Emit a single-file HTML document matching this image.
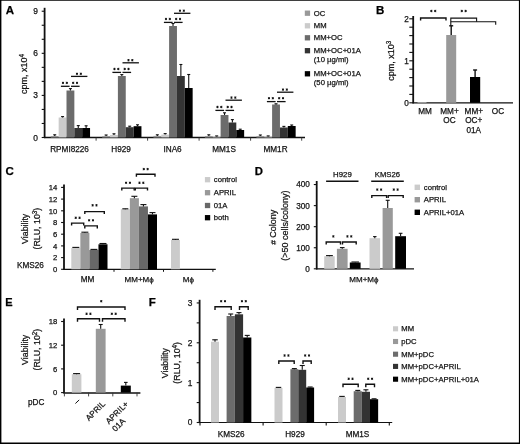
<!DOCTYPE html>
<html><head><meta charset="utf-8"><title>Figure</title>
<style>
html,body{margin:0;padding:0;background:#fff;}
body{width:520px;height:444px;overflow:hidden;font-family:"Liberation Sans",sans-serif;}
svg{display:block;font-family:"Liberation Sans",sans-serif;}
</style></head><body>
<svg width="520" height="444" viewBox="0 0 520 444">
<rect x="0" y="0" width="520" height="444" fill="#fff"/>
<g id="fig" style="will-change:transform">
<text x="5.8" y="13.8" font-size="11.5" text-anchor="start" font-weight="bold" fill="#000" stroke="#000" stroke-width="0.25">A</text>
<line x1="44.6" y1="7.8" x2="44.6" y2="138.1" stroke="#111" stroke-width="1.8"/>
<line x1="41.7" y1="137.5" x2="44.6" y2="137.5" stroke="#111" stroke-width="1.1"/>
<line x1="41.7" y1="123.47" x2="44.6" y2="123.47" stroke="#111" stroke-width="1.1"/>
<line x1="41.7" y1="109.44" x2="44.6" y2="109.44" stroke="#111" stroke-width="1.1"/>
<line x1="41.7" y1="95.41" x2="44.6" y2="95.41" stroke="#111" stroke-width="1.1"/>
<line x1="41.7" y1="81.38" x2="44.6" y2="81.38" stroke="#111" stroke-width="1.1"/>
<line x1="41.7" y1="67.35000000000001" x2="44.6" y2="67.35000000000001" stroke="#111" stroke-width="1.1"/>
<line x1="41.7" y1="53.32000000000001" x2="44.6" y2="53.32000000000001" stroke="#111" stroke-width="1.1"/>
<line x1="41.7" y1="39.290000000000006" x2="44.6" y2="39.290000000000006" stroke="#111" stroke-width="1.1"/>
<line x1="41.7" y1="25.260000000000005" x2="44.6" y2="25.260000000000005" stroke="#111" stroke-width="1.1"/>
<line x1="41.7" y1="11.230000000000004" x2="44.6" y2="11.230000000000004" stroke="#111" stroke-width="1.1"/>
<text x="38" y="140.5" font-size="8.4" text-anchor="end" font-weight="normal" fill="#141414" stroke="#141414" stroke-width="0.25">0</text>
<text x="38" y="98.41" font-size="8.4" text-anchor="end" font-weight="normal" fill="#141414" stroke="#141414" stroke-width="0.25">3</text>
<text x="38" y="56.32000000000001" font-size="8.4" text-anchor="end" font-weight="normal" fill="#141414" stroke="#141414" stroke-width="0.25">6</text>
<text x="38" y="14.230000000000004" font-size="8.4" text-anchor="end" font-weight="normal" fill="#141414" stroke="#141414" stroke-width="0.25">9</text>
<text x="26.9" y="74" font-size="9" text-anchor="middle" font-weight="normal" fill="#141414" stroke="#141414" stroke-width="0.25" transform="rotate(-90 26.9 74)">cpm, x10<tspan font-size="6.3" dy="-3">4</tspan></text>
<line x1="44.0" y1="137.5" x2="305" y2="137.5" stroke="#111" stroke-width="1.4"/>
<line x1="96.1" y1="137.5" x2="96.1" y2="140.7" stroke="#333" stroke-width="0.9"/>
<line x1="147.6" y1="137.5" x2="147.6" y2="140.7" stroke="#333" stroke-width="0.9"/>
<line x1="199.1" y1="137.5" x2="199.1" y2="140.7" stroke="#333" stroke-width="0.9"/>
<line x1="250.6" y1="137.5" x2="250.6" y2="140.7" stroke="#333" stroke-width="0.9"/>
<line x1="301.70000000000005" y1="137.5" x2="301.70000000000005" y2="140.7" stroke="#333" stroke-width="0.9"/>
<rect x="50.800000000000004" y="136.0" width="7.85" height="1.5" fill="#999999"/>
<line x1="54.725" y1="136.0" x2="54.725" y2="134.8" stroke="#111" stroke-width="1.1"/>
<line x1="53.225" y1="134.8" x2="56.225" y2="134.8" stroke="#111" stroke-width="1.1"/>
<rect x="58.650000000000006" y="117.5" width="7.85" height="20.0" fill="#cbcbcb"/>
<line x1="62.575" y1="117.5" x2="62.575" y2="116.6" stroke="#111" stroke-width="1.1"/>
<line x1="61.075" y1="116.6" x2="64.075" y2="116.6" stroke="#111" stroke-width="1.1"/>
<rect x="66.5" y="90.5" width="7.85" height="47.0" fill="#6c6c6c"/>
<line x1="70.425" y1="90.5" x2="70.425" y2="88.6" stroke="#111" stroke-width="1.1"/>
<line x1="68.925" y1="88.6" x2="71.925" y2="88.6" stroke="#111" stroke-width="1.1"/>
<rect x="74.35" y="128" width="7.85" height="9.5" fill="#333333"/>
<line x1="78.27499999999999" y1="128" x2="78.27499999999999" y2="125.6" stroke="#111" stroke-width="1.1"/>
<line x1="76.77499999999999" y1="125.6" x2="79.77499999999999" y2="125.6" stroke="#111" stroke-width="1.1"/>
<rect x="82.2" y="128" width="7.85" height="9.5" fill="#000000"/>
<line x1="86.125" y1="128" x2="86.125" y2="125.8" stroke="#111" stroke-width="1.1"/>
<line x1="84.625" y1="125.8" x2="87.625" y2="125.8" stroke="#111" stroke-width="1.1"/>
<text x="69.55" y="151.6" font-size="8.2" text-anchor="middle" font-weight="normal" fill="#141414" stroke="#141414" stroke-width="0.25">RPMI8226</text>
<rect x="102.19999999999999" y="136.1" width="7.85" height="1.4000000000000057" fill="#999999"/>
<line x1="106.12499999999999" y1="136.1" x2="106.12499999999999" y2="135.0" stroke="#111" stroke-width="1.1"/>
<line x1="104.62499999999999" y1="135.0" x2="107.62499999999999" y2="135.0" stroke="#111" stroke-width="1.1"/>
<rect x="110.04999999999998" y="135.0" width="7.85" height="2.5" fill="#cbcbcb"/>
<line x1="113.97499999999998" y1="135.0" x2="113.97499999999998" y2="133.8" stroke="#111" stroke-width="1.1"/>
<line x1="112.47499999999998" y1="133.8" x2="115.47499999999998" y2="133.8" stroke="#111" stroke-width="1.1"/>
<rect x="117.89999999999999" y="76" width="7.85" height="61.5" fill="#6c6c6c"/>
<line x1="121.82499999999999" y1="76" x2="121.82499999999999" y2="74.6" stroke="#111" stroke-width="1.1"/>
<line x1="120.32499999999999" y1="74.6" x2="123.32499999999999" y2="74.6" stroke="#111" stroke-width="1.1"/>
<rect x="125.74999999999999" y="127.2" width="7.85" height="10.299999999999997" fill="#333333"/>
<line x1="129.67499999999998" y1="127.2" x2="129.67499999999998" y2="126.2" stroke="#111" stroke-width="1.1"/>
<line x1="128.17499999999998" y1="126.2" x2="131.17499999999998" y2="126.2" stroke="#111" stroke-width="1.1"/>
<rect x="133.6" y="126.2" width="7.85" height="11.299999999999997" fill="#000000"/>
<line x1="137.525" y1="126.2" x2="137.525" y2="124.8" stroke="#111" stroke-width="1.1"/>
<line x1="136.025" y1="124.8" x2="139.025" y2="124.8" stroke="#111" stroke-width="1.1"/>
<text x="121.05" y="151.6" font-size="8.2" text-anchor="middle" font-weight="normal" fill="#141414" stroke="#141414" stroke-width="0.25">H929</text>
<rect x="153.39999999999998" y="135.9" width="7.85" height="1.5999999999999943" fill="#999999"/>
<line x1="157.325" y1="135.9" x2="157.325" y2="134.8" stroke="#111" stroke-width="1.1"/>
<line x1="155.825" y1="134.8" x2="158.825" y2="134.8" stroke="#111" stroke-width="1.1"/>
<rect x="161.24999999999997" y="134.6" width="7.85" height="2.9000000000000057" fill="#cbcbcb"/>
<line x1="165.17499999999998" y1="134.6" x2="165.17499999999998" y2="133.6" stroke="#111" stroke-width="1.1"/>
<line x1="163.67499999999998" y1="133.6" x2="166.67499999999998" y2="133.6" stroke="#111" stroke-width="1.1"/>
<rect x="169.09999999999997" y="26" width="7.85" height="111.5" fill="#6c6c6c"/>
<line x1="173.02499999999998" y1="26" x2="173.02499999999998" y2="23.5" stroke="#111" stroke-width="1.1"/>
<line x1="171.52499999999998" y1="23.5" x2="174.52499999999998" y2="23.5" stroke="#111" stroke-width="1.1"/>
<rect x="176.95" y="76" width="7.85" height="61.5" fill="#333333"/>
<line x1="180.875" y1="76" x2="180.875" y2="64.5" stroke="#111" stroke-width="1.1"/>
<line x1="179.375" y1="64.5" x2="182.375" y2="64.5" stroke="#111" stroke-width="1.1"/>
<rect x="184.79999999999998" y="88" width="7.85" height="49.5" fill="#000000"/>
<line x1="188.725" y1="88" x2="188.725" y2="74.5" stroke="#111" stroke-width="1.1"/>
<line x1="187.225" y1="74.5" x2="190.225" y2="74.5" stroke="#111" stroke-width="1.1"/>
<text x="172.54999999999998" y="151.6" font-size="8.2" text-anchor="middle" font-weight="normal" fill="#141414" stroke="#141414" stroke-width="0.25">INA6</text>
<rect x="204.89999999999998" y="136.0" width="7.85" height="1.5" fill="#999999"/>
<line x1="208.825" y1="136.0" x2="208.825" y2="134.8" stroke="#111" stroke-width="1.1"/>
<line x1="207.325" y1="134.8" x2="210.325" y2="134.8" stroke="#111" stroke-width="1.1"/>
<rect x="212.74999999999997" y="136.5" width="7.85" height="1.0" fill="#cbcbcb"/>
<line x1="216.67499999999998" y1="136.5" x2="216.67499999999998" y2="135.9" stroke="#111" stroke-width="1.1"/>
<line x1="215.17499999999998" y1="135.9" x2="218.17499999999998" y2="135.9" stroke="#111" stroke-width="1.1"/>
<rect x="220.59999999999997" y="115" width="7.85" height="22.5" fill="#6c6c6c"/>
<line x1="224.52499999999998" y1="115" x2="224.52499999999998" y2="112.8" stroke="#111" stroke-width="1.1"/>
<line x1="223.02499999999998" y1="112.8" x2="226.02499999999998" y2="112.8" stroke="#111" stroke-width="1.1"/>
<rect x="228.45" y="122.5" width="7.85" height="15.0" fill="#333333"/>
<line x1="232.375" y1="122.5" x2="232.375" y2="119.6" stroke="#111" stroke-width="1.1"/>
<line x1="230.875" y1="119.6" x2="233.875" y2="119.6" stroke="#111" stroke-width="1.1"/>
<rect x="236.29999999999998" y="130" width="7.85" height="7.5" fill="#000000"/>
<line x1="240.225" y1="130" x2="240.225" y2="129.2" stroke="#111" stroke-width="1.1"/>
<line x1="238.725" y1="129.2" x2="241.725" y2="129.2" stroke="#111" stroke-width="1.1"/>
<text x="224.04999999999998" y="151.6" font-size="8.2" text-anchor="middle" font-weight="normal" fill="#141414" stroke="#141414" stroke-width="0.25">MM1S</text>
<rect x="256.4" y="136.0" width="7.85" height="1.5" fill="#999999"/>
<line x1="260.325" y1="136.0" x2="260.325" y2="135.0" stroke="#111" stroke-width="1.1"/>
<line x1="258.825" y1="135.0" x2="261.825" y2="135.0" stroke="#111" stroke-width="1.1"/>
<rect x="264.25" y="136.5" width="7.85" height="1.0" fill="#cbcbcb"/>
<line x1="268.175" y1="136.5" x2="268.175" y2="135.9" stroke="#111" stroke-width="1.1"/>
<line x1="266.675" y1="135.9" x2="269.675" y2="135.9" stroke="#111" stroke-width="1.1"/>
<rect x="272.09999999999997" y="104.5" width="7.85" height="33.0" fill="#6c6c6c"/>
<line x1="276.025" y1="104.5" x2="276.025" y2="103.8" stroke="#111" stroke-width="1.1"/>
<line x1="274.525" y1="103.8" x2="277.525" y2="103.8" stroke="#111" stroke-width="1.1"/>
<rect x="279.95" y="127.5" width="7.85" height="10.0" fill="#333333"/>
<line x1="283.875" y1="127.5" x2="283.875" y2="126.4" stroke="#111" stroke-width="1.1"/>
<line x1="282.375" y1="126.4" x2="285.375" y2="126.4" stroke="#111" stroke-width="1.1"/>
<rect x="287.79999999999995" y="126" width="7.85" height="11.5" fill="#000000"/>
<line x1="291.72499999999997" y1="126" x2="291.72499999999997" y2="125" stroke="#111" stroke-width="1.1"/>
<line x1="290.22499999999997" y1="125" x2="293.22499999999997" y2="125" stroke="#111" stroke-width="1.1"/>
<text x="275.55" y="151.6" font-size="8.2" text-anchor="middle" font-weight="normal" fill="#141414" stroke="#141414" stroke-width="0.25">MM1R</text>
<line x1="60.90000000000001" y1="86.3" x2="69.60000000000001" y2="86.3" stroke="#111" stroke-width="1.3"/>
<line x1="71.00000000000001" y1="86.3" x2="79.60000000000001" y2="86.3" stroke="#111" stroke-width="1.3"/>
<path d="M62.98 82.12L62.98 83.68M62.30 82.51L63.65 83.29M63.65 82.51L62.30 83.29" stroke="#111" stroke-width="0.95" stroke-linecap="round" fill="none"/>
<path d="M66.83 82.12L66.83 83.68M66.15 82.51L67.50 83.29M67.50 82.51L66.15 83.29" stroke="#111" stroke-width="0.95" stroke-linecap="round" fill="none"/>
<path d="M73.18 82.12L73.18 83.68M72.50 82.51L73.85 83.29M73.85 82.51L72.50 83.29" stroke="#111" stroke-width="0.95" stroke-linecap="round" fill="none"/>
<path d="M77.03 82.12L77.03 83.68M76.35 82.51L77.70 83.29M77.70 82.51L76.35 83.29" stroke="#111" stroke-width="0.95" stroke-linecap="round" fill="none"/>
<line x1="71.00000000000001" y1="76.4" x2="87.4" y2="76.4" stroke="#111" stroke-width="1.3"/>
<path d="M76.98 73.02L76.98 74.58M76.30 73.41L77.65 74.19M77.65 73.41L76.30 74.19" stroke="#111" stroke-width="0.95" stroke-linecap="round" fill="none"/>
<path d="M80.83 73.02L80.83 74.58M80.15 73.41L81.50 74.19M81.50 73.41L80.15 74.19" stroke="#111" stroke-width="0.95" stroke-linecap="round" fill="none"/>
<line x1="112.39999999999999" y1="72.4" x2="121.1" y2="72.4" stroke="#111" stroke-width="1.3"/>
<line x1="122.5" y1="72.4" x2="131.1" y2="72.4" stroke="#111" stroke-width="1.3"/>
<path d="M114.47 68.22L114.47 69.78M113.80 68.61L115.15 69.39M115.15 68.61L113.80 69.39" stroke="#111" stroke-width="0.95" stroke-linecap="round" fill="none"/>
<path d="M118.32 68.22L118.32 69.78M117.65 68.61L119.00 69.39M119.00 68.61L117.65 69.39" stroke="#111" stroke-width="0.95" stroke-linecap="round" fill="none"/>
<path d="M124.67 68.22L124.67 69.78M124.00 68.61L125.35 69.39M125.35 68.61L124.00 69.39" stroke="#111" stroke-width="0.95" stroke-linecap="round" fill="none"/>
<path d="M128.53 68.22L128.53 69.78M127.85 68.61L129.20 69.39M129.20 68.61L127.85 69.39" stroke="#111" stroke-width="0.95" stroke-linecap="round" fill="none"/>
<line x1="122.5" y1="62.8" x2="138.9" y2="62.8" stroke="#111" stroke-width="1.3"/>
<path d="M128.47 59.42L128.47 60.98M127.80 59.81L129.15 60.59M129.15 59.81L127.80 60.59" stroke="#111" stroke-width="0.95" stroke-linecap="round" fill="none"/>
<path d="M132.33 59.42L132.33 60.98M131.65 59.81L133.00 60.59M133.00 59.81L131.65 60.59" stroke="#111" stroke-width="0.95" stroke-linecap="round" fill="none"/>
<line x1="163.89999999999998" y1="22.4" x2="172.6" y2="22.4" stroke="#111" stroke-width="1.3"/>
<line x1="173.99999999999997" y1="22.4" x2="182.6" y2="22.4" stroke="#111" stroke-width="1.3"/>
<path d="M165.97 18.22L165.97 19.78M165.30 18.61L166.65 19.39M166.65 18.61L165.30 19.39" stroke="#111" stroke-width="0.95" stroke-linecap="round" fill="none"/>
<path d="M169.82 18.22L169.82 19.78M169.15 18.61L170.50 19.39M170.50 18.61L169.15 19.39" stroke="#111" stroke-width="0.95" stroke-linecap="round" fill="none"/>
<path d="M176.17 18.22L176.17 19.78M175.50 18.61L176.85 19.39M176.85 18.61L175.50 19.39" stroke="#111" stroke-width="0.95" stroke-linecap="round" fill="none"/>
<path d="M180.03 18.22L180.03 19.78M179.35 18.61L180.70 19.39M180.70 18.61L179.35 19.39" stroke="#111" stroke-width="0.95" stroke-linecap="round" fill="none"/>
<line x1="173.99999999999997" y1="13.3" x2="190.39999999999998" y2="13.3" stroke="#111" stroke-width="1.3"/>
<path d="M179.97 9.92L179.97 11.48M179.30 10.31L180.65 11.09M180.65 10.31L179.30 11.09" stroke="#111" stroke-width="0.95" stroke-linecap="round" fill="none"/>
<path d="M183.82 9.92L183.82 11.48M183.15 10.31L184.50 11.09M184.50 10.31L183.15 11.09" stroke="#111" stroke-width="0.95" stroke-linecap="round" fill="none"/>
<line x1="215.39999999999998" y1="110.4" x2="224.1" y2="110.4" stroke="#111" stroke-width="1.3"/>
<line x1="225.49999999999997" y1="110.4" x2="234.1" y2="110.4" stroke="#111" stroke-width="1.3"/>
<path d="M217.47 106.22L217.47 107.78M216.80 106.61L218.15 107.39M218.15 106.61L216.80 107.39" stroke="#111" stroke-width="0.95" stroke-linecap="round" fill="none"/>
<path d="M221.32 106.22L221.32 107.78M220.65 106.61L222.00 107.39M222.00 106.61L220.65 107.39" stroke="#111" stroke-width="0.95" stroke-linecap="round" fill="none"/>
<path d="M227.67 106.22L227.67 107.78M227.00 106.61L228.35 107.39M228.35 106.61L227.00 107.39" stroke="#111" stroke-width="0.95" stroke-linecap="round" fill="none"/>
<path d="M231.53 106.22L231.53 107.78M230.85 106.61L232.20 107.39M232.20 106.61L230.85 107.39" stroke="#111" stroke-width="0.95" stroke-linecap="round" fill="none"/>
<line x1="225.49999999999997" y1="100.2" x2="241.89999999999998" y2="100.2" stroke="#111" stroke-width="1.3"/>
<path d="M231.47 96.82L231.47 98.38M230.80 97.21L232.15 97.99M232.15 97.21L230.80 97.99" stroke="#111" stroke-width="0.95" stroke-linecap="round" fill="none"/>
<path d="M235.32 96.82L235.32 98.38M234.65 97.21L236.00 97.99M236.00 97.21L234.65 97.99" stroke="#111" stroke-width="0.95" stroke-linecap="round" fill="none"/>
<line x1="266.9" y1="101.6" x2="275.59999999999997" y2="101.6" stroke="#111" stroke-width="1.3"/>
<line x1="276.99999999999994" y1="101.6" x2="285.59999999999997" y2="101.6" stroke="#111" stroke-width="1.3"/>
<path d="M268.97 97.42L268.97 98.98M268.30 97.81L269.65 98.59M269.65 97.81L268.30 98.59" stroke="#111" stroke-width="0.95" stroke-linecap="round" fill="none"/>
<path d="M272.82 97.42L272.82 98.98M272.15 97.81L273.50 98.59M273.50 97.81L272.15 98.59" stroke="#111" stroke-width="0.95" stroke-linecap="round" fill="none"/>
<path d="M279.17 97.42L279.17 98.98M278.50 97.81L279.85 98.59M279.85 97.81L278.50 98.59" stroke="#111" stroke-width="0.95" stroke-linecap="round" fill="none"/>
<path d="M283.02 97.42L283.02 98.98M282.35 97.81L283.70 98.59M283.70 97.81L282.35 98.59" stroke="#111" stroke-width="0.95" stroke-linecap="round" fill="none"/>
<line x1="276.99999999999994" y1="92.2" x2="293.4" y2="92.2" stroke="#111" stroke-width="1.3"/>
<path d="M282.97 88.82L282.97 90.38M282.30 89.21L283.65 89.99M283.65 89.21L282.30 89.99" stroke="#111" stroke-width="0.95" stroke-linecap="round" fill="none"/>
<path d="M286.82 88.82L286.82 90.38M286.15 89.21L287.50 89.99M287.50 89.21L286.15 89.99" stroke="#111" stroke-width="0.95" stroke-linecap="round" fill="none"/>
<rect x="304.8" y="10.549999999999999" width="5.3" height="5.3" fill="#999999"/>
<text x="313.8" y="15.572" font-size="7.7" text-anchor="start" font-weight="normal" fill="#141414" stroke="#141414" stroke-width="0.25">OC</text>
<rect x="304.8" y="23.150000000000002" width="5.3" height="5.3" fill="#cbcbcb"/>
<text x="313.8" y="28.172" font-size="7.7" text-anchor="start" font-weight="normal" fill="#141414" stroke="#141414" stroke-width="0.25">MM</text>
<rect x="304.8" y="35.15" width="5.3" height="5.3" fill="#6c6c6c"/>
<text x="313.8" y="40.172" font-size="7.7" text-anchor="start" font-weight="normal" fill="#141414" stroke="#141414" stroke-width="0.25">MM+OC</text>
<rect x="304.8" y="48.050000000000004" width="5.3" height="5.3" fill="#333333"/>
<text x="313.8" y="53.072" font-size="7.7" text-anchor="start" font-weight="normal" fill="#141414" stroke="#141414" stroke-width="0.25">MM+OC+01A</text>
<text x="313.8" y="61.872" font-size="7.7" text-anchor="start" font-weight="normal" fill="#141414" stroke="#141414" stroke-width="0.25">(10 µg/ml)</text>
<rect x="304.8" y="71.14999999999999" width="5.3" height="5.3" fill="#000000"/>
<text x="313.8" y="76.172" font-size="7.7" text-anchor="start" font-weight="normal" fill="#141414" stroke="#141414" stroke-width="0.25">MM+OC+01A</text>
<text x="313.8" y="85.372" font-size="7.7" text-anchor="start" font-weight="normal" fill="#141414" stroke="#141414" stroke-width="0.25">(50 µg/ml)</text>
<text x="376" y="13.5" font-size="11.5" text-anchor="start" font-weight="bold" fill="#000" stroke="#000" stroke-width="0.25">B</text>
<line x1="413.2" y1="16" x2="413.2" y2="103.39999999999999" stroke="#111" stroke-width="1.8"/>
<line x1="409.3" y1="102.8" x2="413.2" y2="102.8" stroke="#111" stroke-width="1.1"/>
<line x1="409.3" y1="94.39999999999999" x2="413.2" y2="94.39999999999999" stroke="#111" stroke-width="1.1"/>
<line x1="409.3" y1="86.0" x2="413.2" y2="86.0" stroke="#111" stroke-width="1.1"/>
<line x1="409.3" y1="77.6" x2="413.2" y2="77.6" stroke="#111" stroke-width="1.1"/>
<line x1="409.3" y1="69.19999999999999" x2="413.2" y2="69.19999999999999" stroke="#111" stroke-width="1.1"/>
<line x1="409.3" y1="60.8" x2="413.2" y2="60.8" stroke="#111" stroke-width="1.1"/>
<line x1="409.3" y1="52.4" x2="413.2" y2="52.4" stroke="#111" stroke-width="1.1"/>
<line x1="409.3" y1="44.0" x2="413.2" y2="44.0" stroke="#111" stroke-width="1.1"/>
<line x1="409.3" y1="35.599999999999994" x2="413.2" y2="35.599999999999994" stroke="#111" stroke-width="1.1"/>
<line x1="409.3" y1="27.200000000000003" x2="413.2" y2="27.200000000000003" stroke="#111" stroke-width="1.1"/>
<line x1="409.3" y1="18.799999999999997" x2="413.2" y2="18.799999999999997" stroke="#111" stroke-width="1.1"/>
<text x="408.8" y="106.0" font-size="8.2" text-anchor="end" font-weight="normal" fill="#141414" stroke="#141414" stroke-width="0.25">0</text>
<text x="408.8" y="64.0" font-size="8.2" text-anchor="end" font-weight="normal" fill="#141414" stroke="#141414" stroke-width="0.25">1</text>
<text x="408.8" y="21.999999999999996" font-size="8.2" text-anchor="end" font-weight="normal" fill="#141414" stroke="#141414" stroke-width="0.25">2</text>
<text x="394.4" y="60.8" font-size="9" text-anchor="middle" font-weight="normal" fill="#141414" stroke="#141414" stroke-width="0.25" transform="rotate(-90 394.4 60.8)">cpm, x10<tspan font-size="6.3" dy="-3">3</tspan></text>
<line x1="412.59999999999997" y1="102.8" x2="513" y2="102.8" stroke="#111" stroke-width="1.3"/>
<rect x="417.5" y="102.2" width="9" height="0.5999999999999943" fill="#cbcbcb"/>
<rect x="446.2" y="35" width="10" height="67.8" fill="#999999"/>
<line x1="451.2" y1="35" x2="451.2" y2="25.8" stroke="#111" stroke-width="1.4"/>
<line x1="449.2" y1="25.8" x2="453.2" y2="25.8" stroke="#111" stroke-width="1.4"/>
<rect x="470.0" y="77" width="10.2" height="25.799999999999997" fill="#000000"/>
<line x1="475.1" y1="77" x2="475.1" y2="70" stroke="#111" stroke-width="1.4"/>
<line x1="473.1" y1="70" x2="477.1" y2="70" stroke="#111" stroke-width="1.4"/>
<path d="M420.6 20.5 V18 H446 V20.5" fill="none" stroke="#111" stroke-width="1.4"/>
<path d="M431.38 10.22L431.38 11.78M430.70 10.61L432.05 11.39M432.05 10.61L430.70 11.39" stroke="#111" stroke-width="0.95" stroke-linecap="round" fill="none"/>
<path d="M435.23 10.22L435.23 11.78M434.55 10.61L435.90 11.39M435.90 10.61L434.55 11.39" stroke="#111" stroke-width="0.95" stroke-linecap="round" fill="none"/>
<path d="M450.8 25.8 V18.1 H476.6 V21.8" fill="none" stroke="#111" stroke-width="1.1"/>
<path d="M461.77 10.22L461.77 11.78M461.10 10.61L462.45 11.39M462.45 10.61L461.10 11.39" stroke="#111" stroke-width="0.95" stroke-linecap="round" fill="none"/>
<path d="M465.62 10.22L465.62 11.78M464.95 10.61L466.30 11.39M466.30 10.61L464.95 11.39" stroke="#111" stroke-width="0.95" stroke-linecap="round" fill="none"/>
<path d="M450.8 21.8 H495.7 V24.8" fill="none" stroke="#111" stroke-width="1.1"/>
<text x="425" y="113.9" font-size="8.2" text-anchor="middle" font-weight="normal" fill="#141414" stroke="#141414" stroke-width="0.25">MM</text>
<text x="449.5" y="113.9" font-size="8.2" text-anchor="middle" font-weight="normal" fill="#141414" stroke="#141414" stroke-width="0.25">MM+</text>
<text x="449.5" y="123.4" font-size="8.2" text-anchor="middle" font-weight="normal" fill="#141414" stroke="#141414" stroke-width="0.25">OC</text>
<text x="473.8" y="113.9" font-size="8.2" text-anchor="middle" font-weight="normal" fill="#141414" stroke="#141414" stroke-width="0.25">MM+</text>
<text x="473.8" y="123.4" font-size="8.2" text-anchor="middle" font-weight="normal" fill="#141414" stroke="#141414" stroke-width="0.25">OC+</text>
<text x="473.8" y="132.9" font-size="8.2" text-anchor="middle" font-weight="normal" fill="#141414" stroke="#141414" stroke-width="0.25">01A</text>
<text x="498" y="113.9" font-size="8.2" text-anchor="middle" font-weight="normal" fill="#141414" stroke="#141414" stroke-width="0.25">OC</text>
<text x="5.4" y="174.6" font-size="11.5" text-anchor="start" font-weight="bold" fill="#000" stroke="#000" stroke-width="0.25">C</text>
<line x1="64.0" y1="184.5" x2="64.0" y2="269.90000000000003" stroke="#111" stroke-width="1.8"/>
<line x1="61.1" y1="269.3" x2="64.0" y2="269.3" stroke="#111" stroke-width="1.1"/>
<line x1="61.1" y1="257.6" x2="64.0" y2="257.6" stroke="#111" stroke-width="1.1"/>
<line x1="61.1" y1="245.9" x2="64.0" y2="245.9" stroke="#111" stroke-width="1.1"/>
<line x1="61.1" y1="234.20000000000002" x2="64.0" y2="234.20000000000002" stroke="#111" stroke-width="1.1"/>
<line x1="61.1" y1="222.5" x2="64.0" y2="222.5" stroke="#111" stroke-width="1.1"/>
<line x1="61.1" y1="210.8" x2="64.0" y2="210.8" stroke="#111" stroke-width="1.1"/>
<line x1="61.1" y1="199.10000000000002" x2="64.0" y2="199.10000000000002" stroke="#111" stroke-width="1.1"/>
<line x1="61.1" y1="187.40000000000003" x2="64.0" y2="187.40000000000003" stroke="#111" stroke-width="1.1"/>
<text x="57.4" y="272.0" font-size="7.7" text-anchor="end" font-weight="normal" fill="#141414" stroke="#141414" stroke-width="0.25">0</text>
<text x="57.4" y="260.3" font-size="7.7" text-anchor="end" font-weight="normal" fill="#141414" stroke="#141414" stroke-width="0.25">2</text>
<text x="57.4" y="248.6" font-size="7.7" text-anchor="end" font-weight="normal" fill="#141414" stroke="#141414" stroke-width="0.25">4</text>
<text x="57.4" y="236.9" font-size="7.7" text-anchor="end" font-weight="normal" fill="#141414" stroke="#141414" stroke-width="0.25">6</text>
<text x="57.4" y="225.2" font-size="7.7" text-anchor="end" font-weight="normal" fill="#141414" stroke="#141414" stroke-width="0.25">8</text>
<text x="57.4" y="213.5" font-size="7.7" text-anchor="end" font-weight="normal" fill="#141414" stroke="#141414" stroke-width="0.25">10</text>
<text x="57.4" y="201.8" font-size="7.7" text-anchor="end" font-weight="normal" fill="#141414" stroke="#141414" stroke-width="0.25">12</text>
<text x="57.4" y="190.10000000000002" font-size="7.7" text-anchor="end" font-weight="normal" fill="#141414" stroke="#141414" stroke-width="0.25">14</text>
<text x="28.1" y="228.8" font-size="8.8" text-anchor="middle" font-weight="normal" fill="#141414" stroke="#141414" stroke-width="0.25" transform="rotate(-90 28.1 228.8)">Viability</text>
<text x="40.0" y="228.6" font-size="8.8" text-anchor="middle" font-weight="normal" fill="#141414" stroke="#141414" stroke-width="0.25" transform="rotate(-90 40.0 228.6)">(RLU, 10<tspan font-size="6.3" dy="-3">3</tspan><tspan dy="3">)</tspan></text>
<text x="17" y="268.2" font-size="8.2" text-anchor="start" font-weight="normal" fill="#141414" stroke="#141414" stroke-width="0.25">KMS26</text>
<line x1="63.4" y1="269.3" x2="215.8" y2="269.3" stroke="#111" stroke-width="1.3"/>
<line x1="114" y1="269.3" x2="114" y2="271.8" stroke="#111" stroke-width="1"/>
<line x1="163.5" y1="269.3" x2="163.5" y2="271.8" stroke="#111" stroke-width="1"/>
<line x1="212.9" y1="269.3" x2="212.9" y2="271.8" stroke="#111" stroke-width="1"/>
<rect x="71.3" y="248" width="9.05" height="21.30000000000001" fill="#cbcbcb"/>
<line x1="75.825" y1="248" x2="75.825" y2="247.4" stroke="#111" stroke-width="1.1"/>
<line x1="72.325" y1="247.4" x2="79.325" y2="247.4" stroke="#111" stroke-width="1.1"/>
<rect x="80.35" y="233" width="9.05" height="36.30000000000001" fill="#999999"/>
<line x1="84.875" y1="233" x2="84.875" y2="232.2" stroke="#111" stroke-width="1.1"/>
<line x1="81.375" y1="232.2" x2="88.375" y2="232.2" stroke="#111" stroke-width="1.1"/>
<rect x="89.4" y="250" width="9.05" height="19.30000000000001" fill="#686868"/>
<line x1="93.92500000000001" y1="250" x2="93.92500000000001" y2="249.4" stroke="#111" stroke-width="1.1"/>
<line x1="90.42500000000001" y1="249.4" x2="97.42500000000001" y2="249.4" stroke="#111" stroke-width="1.1"/>
<rect x="98.45" y="244.3" width="9.05" height="25.0" fill="#000000"/>
<line x1="102.97500000000001" y1="244.3" x2="102.97500000000001" y2="243.5" stroke="#111" stroke-width="1.1"/>
<line x1="99.47500000000001" y1="243.5" x2="106.47500000000001" y2="243.5" stroke="#111" stroke-width="1.1"/>
<rect x="120.8" y="209.2" width="9.05" height="60.10000000000002" fill="#cbcbcb"/>
<line x1="125.325" y1="209.2" x2="125.325" y2="208.8" stroke="#111" stroke-width="1.1"/>
<line x1="122.325" y1="208.8" x2="128.325" y2="208.8" stroke="#111" stroke-width="1.1"/>
<rect x="129.85" y="198.2" width="9.05" height="71.10000000000002" fill="#999999"/>
<line x1="134.375" y1="198.2" x2="134.375" y2="196.3" stroke="#111" stroke-width="1.1"/>
<line x1="131.375" y1="196.3" x2="137.375" y2="196.3" stroke="#111" stroke-width="1.1"/>
<rect x="138.9" y="206.4" width="9.05" height="62.900000000000006" fill="#686868"/>
<line x1="143.425" y1="206.4" x2="143.425" y2="204.6" stroke="#111" stroke-width="1.1"/>
<line x1="140.425" y1="204.6" x2="146.425" y2="204.6" stroke="#111" stroke-width="1.1"/>
<rect x="147.95" y="214.4" width="9.05" height="54.900000000000006" fill="#000000"/>
<line x1="152.475" y1="214.4" x2="152.475" y2="212.6" stroke="#111" stroke-width="1.1"/>
<line x1="149.475" y1="212.6" x2="155.475" y2="212.6" stroke="#111" stroke-width="1.1"/>
<rect x="171.0" y="240" width="8.9" height="29.30000000000001" fill="#cbcbcb"/>
<line x1="175.45" y1="240" x2="175.45" y2="239.3" stroke="#111" stroke-width="1.1"/>
<line x1="171.95" y1="239.3" x2="178.95" y2="239.3" stroke="#111" stroke-width="1.1"/>
<text x="87.5" y="281.6" font-size="8.2" text-anchor="middle" font-weight="normal" fill="#141414" stroke="#141414" stroke-width="0.25">MM</text>
<text x="139.2" y="281.5" font-size="8.0" text-anchor="middle" font-weight="normal" fill="#141414" stroke="#141414" stroke-width="0.25">MM+Mϕ</text>
<text x="188.4" y="281.5" font-size="8.0" text-anchor="middle" font-weight="normal" fill="#141414" stroke="#141414" stroke-width="0.25">Mϕ</text>
<path d="M71.6 225.6 V223.1 H83.7 V225.6" fill="none" stroke="#111" stroke-width="1.4"/>
<path d="M75.73 217.02L75.73 218.58M75.05 217.41L76.40 218.19M76.40 217.41L75.05 218.19" stroke="#111" stroke-width="0.95" stroke-linecap="round" fill="none"/>
<path d="M79.58 217.02L79.58 218.58M78.90 217.41L80.25 218.19M80.25 217.41L78.90 218.19" stroke="#111" stroke-width="0.95" stroke-linecap="round" fill="none"/>
<path d="M84.8 228.4 V225.9 H97.3 V228.4" fill="none" stroke="#111" stroke-width="1.4"/>
<path d="M89.12 219.52L89.12 221.08M88.45 219.91L89.80 220.69M89.80 219.91L88.45 220.69" stroke="#111" stroke-width="0.95" stroke-linecap="round" fill="none"/>
<path d="M92.97 219.52L92.97 221.08M92.30 219.91L93.65 220.69M93.65 219.91L92.30 220.69" stroke="#111" stroke-width="0.95" stroke-linecap="round" fill="none"/>
<path d="M84.8 214.1 V211.6 H104.3 V214.1" fill="none" stroke="#111" stroke-width="1.4"/>
<path d="M92.62 204.52L92.62 206.08M91.95 204.91L93.30 205.69M93.30 204.91L91.95 205.69" stroke="#111" stroke-width="0.95" stroke-linecap="round" fill="none"/>
<path d="M96.47 204.52L96.47 206.08M95.80 204.91L97.15 205.69M97.15 204.91L95.80 205.69" stroke="#111" stroke-width="0.95" stroke-linecap="round" fill="none"/>
<path d="M121.8 190.6 V188.1 H134.2 V190.6" fill="none" stroke="#111" stroke-width="1.4"/>
<path d="M126.08 182.02L126.08 183.58M125.40 182.41L126.75 183.19M126.75 182.41L125.40 183.19" stroke="#111" stroke-width="0.95" stroke-linecap="round" fill="none"/>
<path d="M129.93 182.02L129.93 183.58M129.25 182.41L130.60 183.19M130.60 182.41L129.25 183.19" stroke="#111" stroke-width="0.95" stroke-linecap="round" fill="none"/>
<path d="M135.3 190.6 V188.1 H147.5 V190.6" fill="none" stroke="#111" stroke-width="1.4"/>
<path d="M139.47 182.02L139.47 183.58M138.80 182.41L140.15 183.19M140.15 182.41L138.80 183.19" stroke="#111" stroke-width="0.95" stroke-linecap="round" fill="none"/>
<path d="M143.33 182.02L143.33 183.58M142.65 182.41L144.00 183.19M144.00 182.41L142.65 183.19" stroke="#111" stroke-width="0.95" stroke-linecap="round" fill="none"/>
<path d="M136.4 176.7 V174.2 H155 V176.7" fill="none" stroke="#111" stroke-width="1.4"/>
<path d="M143.77 168.32L143.77 169.88M143.10 168.71L144.45 169.49M144.45 168.71L143.10 169.49" stroke="#111" stroke-width="0.95" stroke-linecap="round" fill="none"/>
<path d="M147.62 168.32L147.62 169.88M146.95 168.71L148.30 169.49M148.30 168.71L146.95 169.49" stroke="#111" stroke-width="0.95" stroke-linecap="round" fill="none"/>
<rect x="204.9" y="177.04999999999998" width="5.3" height="5.3" fill="#cbcbcb"/>
<text x="213.8" y="182.07199999999997" font-size="7.7" text-anchor="start" font-weight="normal" fill="#141414" stroke="#141414" stroke-width="0.25">control</text>
<rect x="204.9" y="190.04999999999998" width="5.3" height="5.3" fill="#999999"/>
<text x="213.8" y="195.07199999999997" font-size="7.7" text-anchor="start" font-weight="normal" fill="#141414" stroke="#141414" stroke-width="0.25">APRIL</text>
<rect x="204.9" y="202.85" width="5.3" height="5.3" fill="#686868"/>
<text x="213.8" y="207.87199999999999" font-size="7.7" text-anchor="start" font-weight="normal" fill="#141414" stroke="#141414" stroke-width="0.25">01A</text>
<rect x="204.9" y="215.04999999999998" width="5.3" height="5.3" fill="#000000"/>
<text x="213.8" y="220.07199999999997" font-size="7.7" text-anchor="start" font-weight="normal" fill="#141414" stroke="#141414" stroke-width="0.25">both</text>
<text x="254.7" y="174.6" font-size="11.3" text-anchor="start" font-weight="bold" fill="#000" stroke="#000" stroke-width="0.25">D</text>
<line x1="316.7" y1="181" x2="316.7" y2="269.40000000000003" stroke="#111" stroke-width="1.8"/>
<line x1="313.8" y1="268.8" x2="316.7" y2="268.8" stroke="#111" stroke-width="1.1"/>
<line x1="313.8" y1="247.74" x2="316.7" y2="247.74" stroke="#111" stroke-width="1.1"/>
<line x1="313.8" y1="226.68" x2="316.7" y2="226.68" stroke="#111" stroke-width="1.1"/>
<line x1="313.8" y1="205.62" x2="316.7" y2="205.62" stroke="#111" stroke-width="1.1"/>
<line x1="313.8" y1="184.56" x2="316.7" y2="184.56" stroke="#111" stroke-width="1.1"/>
<text x="309.9" y="271.7" font-size="8.2" text-anchor="end" font-weight="normal" fill="#141414" stroke="#141414" stroke-width="0.25">0</text>
<text x="309.9" y="250.64000000000001" font-size="8.2" text-anchor="end" font-weight="normal" fill="#141414" stroke="#141414" stroke-width="0.25">100</text>
<text x="309.9" y="229.58" font-size="8.2" text-anchor="end" font-weight="normal" fill="#141414" stroke="#141414" stroke-width="0.25">200</text>
<text x="309.9" y="208.52" font-size="8.2" text-anchor="end" font-weight="normal" fill="#141414" stroke="#141414" stroke-width="0.25">300</text>
<text x="309.9" y="187.46" font-size="8.2" text-anchor="end" font-weight="normal" fill="#141414" stroke="#141414" stroke-width="0.25">400</text>
<text x="276.4" y="227.3" font-size="9" text-anchor="middle" font-weight="normal" fill="#141414" stroke="#141414" stroke-width="0.25" transform="rotate(-90 276.4 227.3)"><tspan font-size="8" font-style="italic">#</tspan> Colony</text>
<text x="287.7" y="225.7" font-size="9" text-anchor="middle" font-weight="normal" fill="#141414" stroke="#141414" stroke-width="0.25" transform="rotate(-90 287.7 225.7)">(&gt;50 cells/colony)</text>
<line x1="316.09999999999997" y1="268.8" x2="414" y2="268.8" stroke="#111" stroke-width="1.3"/>
<text x="342.4" y="176.6" font-size="7.8" text-anchor="middle" font-weight="normal" fill="#141414" stroke="#141414" stroke-width="0.25">H929</text>
<line x1="326.1" y1="181.2" x2="358.5" y2="181.2" stroke="#111" stroke-width="1.4"/>
<text x="387.4" y="176.6" font-size="7.7" text-anchor="middle" font-weight="normal" fill="#141414" stroke="#141414" stroke-width="0.25">KMS26</text>
<line x1="371.2" y1="181.2" x2="403.8" y2="181.2" stroke="#111" stroke-width="1.4"/>
<rect x="324.2" y="256.2" width="10.5" height="12.600000000000023" fill="#cbcbcb"/>
<line x1="329.45" y1="256.2" x2="329.45" y2="255.6" stroke="#111" stroke-width="1.1"/>
<line x1="326.05" y1="255.6" x2="332.84999999999997" y2="255.6" stroke="#111" stroke-width="1.1"/>
<rect x="336.9" y="248.8" width="10.7" height="20.0" fill="#999999"/>
<line x1="342.25" y1="248.8" x2="342.25" y2="247.6" stroke="#111" stroke-width="1.1"/>
<line x1="339.95" y1="247.6" x2="344.55" y2="247.6" stroke="#111" stroke-width="1.1"/>
<rect x="349.8" y="262.5" width="10.8" height="6.300000000000011" fill="#000000"/>
<line x1="355.2" y1="262.5" x2="355.2" y2="262.0" stroke="#111" stroke-width="1.1"/>
<line x1="351.45" y1="262.0" x2="358.95" y2="262.0" stroke="#111" stroke-width="1.1"/>
<rect x="369.5" y="238.2" width="10.6" height="30.600000000000023" fill="#cbcbcb"/>
<line x1="374.8" y1="238.2" x2="374.8" y2="236.6" stroke="#111" stroke-width="1.1"/>
<line x1="373.1" y1="236.6" x2="376.5" y2="236.6" stroke="#111" stroke-width="1.1"/>
<rect x="382.6" y="208" width="10.2" height="60.80000000000001" fill="#999999"/>
<line x1="387.70000000000005" y1="208" x2="387.70000000000005" y2="200.3" stroke="#111" stroke-width="1.1"/>
<line x1="385.70000000000005" y1="200.3" x2="389.70000000000005" y2="200.3" stroke="#111" stroke-width="1.1"/>
<rect x="395.2" y="236.2" width="10.8" height="32.60000000000002" fill="#000000"/>
<line x1="400.59999999999997" y1="236.2" x2="400.59999999999997" y2="233.3" stroke="#111" stroke-width="1.1"/>
<line x1="398.74999999999994" y1="233.3" x2="402.45" y2="233.3" stroke="#111" stroke-width="1.1"/>
<path d="M326.2 244.5 V242 H340.5 V244.5" fill="none" stroke="#111" stroke-width="1.4"/>
<path d="M333.35 235.62L333.35 237.18M332.67 236.01L334.03 236.79M334.03 236.01L332.67 236.79" stroke="#111" stroke-width="0.95" stroke-linecap="round" fill="none"/>
<path d="M342.5 244.5 V242 H356.2 V244.5" fill="none" stroke="#111" stroke-width="1.4"/>
<path d="M347.43 235.62L347.43 237.18M346.75 236.01L348.10 236.79M348.10 236.01L346.75 236.79" stroke="#111" stroke-width="0.95" stroke-linecap="round" fill="none"/>
<path d="M351.28 235.62L351.28 237.18M350.60 236.01L351.95 236.79M351.95 236.01L350.60 236.79" stroke="#111" stroke-width="0.95" stroke-linecap="round" fill="none"/>
<path d="M371.8 198.1 V195.6 H386.6 V198.1" fill="none" stroke="#111" stroke-width="1.4"/>
<path d="M377.28 188.82L377.28 190.38M376.60 189.21L377.95 189.99M377.95 189.21L376.60 189.99" stroke="#111" stroke-width="0.95" stroke-linecap="round" fill="none"/>
<path d="M381.13 188.82L381.13 190.38M380.45 189.21L381.80 189.99M381.80 189.21L380.45 189.99" stroke="#111" stroke-width="0.95" stroke-linecap="round" fill="none"/>
<path d="M388.2 198.1 V195.6 H403.2 V198.1" fill="none" stroke="#111" stroke-width="1.4"/>
<path d="M393.77 188.82L393.77 190.38M393.10 189.21L394.45 189.99M394.45 189.21L393.10 189.99" stroke="#111" stroke-width="0.95" stroke-linecap="round" fill="none"/>
<path d="M397.62 188.82L397.62 190.38M396.95 189.21L398.30 189.99M398.30 189.21L396.95 189.99" stroke="#111" stroke-width="0.95" stroke-linecap="round" fill="none"/>
<text x="363.9" y="282.3" font-size="8.0" text-anchor="middle" font-weight="normal" fill="#141414" stroke="#141414" stroke-width="0.25">MM+Mϕ</text>
<rect x="414.6" y="184.60000000000002" width="5.4" height="5.4" fill="#cbcbcb"/>
<text x="423.8" y="189.672" font-size="7.7" text-anchor="start" font-weight="normal" fill="#141414" stroke="#141414" stroke-width="0.25">control</text>
<rect x="414.6" y="197.0" width="5.4" height="5.4" fill="#999999"/>
<text x="423.8" y="202.07199999999997" font-size="7.7" text-anchor="start" font-weight="normal" fill="#141414" stroke="#141414" stroke-width="0.25">APRIL</text>
<rect x="414.6" y="209.60000000000002" width="5.4" height="5.4" fill="#000000"/>
<text x="423.8" y="214.672" font-size="7.7" text-anchor="start" font-weight="normal" fill="#141414" stroke="#141414" stroke-width="0.25">APRIL+01A</text>
<text x="5.2" y="306.2" font-size="11" text-anchor="start" font-weight="bold" fill="#000" stroke="#000" stroke-width="0.25">E</text>
<line x1="64.0" y1="318.4" x2="64.0" y2="393.20000000000005" stroke="#111" stroke-width="1.8"/>
<line x1="61.1" y1="392.6" x2="64.0" y2="392.6" stroke="#111" stroke-width="1.1"/>
<line x1="61.1" y1="368.90000000000003" x2="64.0" y2="368.90000000000003" stroke="#111" stroke-width="1.1"/>
<line x1="61.1" y1="345.20000000000005" x2="64.0" y2="345.20000000000005" stroke="#111" stroke-width="1.1"/>
<line x1="61.1" y1="321.5" x2="64.0" y2="321.5" stroke="#111" stroke-width="1.1"/>
<text x="57.4" y="395.3" font-size="7.7" text-anchor="end" font-weight="normal" fill="#141414" stroke="#141414" stroke-width="0.25">0</text>
<text x="57.4" y="371.6" font-size="7.7" text-anchor="end" font-weight="normal" fill="#141414" stroke="#141414" stroke-width="0.25">6</text>
<text x="57.4" y="347.90000000000003" font-size="7.7" text-anchor="end" font-weight="normal" fill="#141414" stroke="#141414" stroke-width="0.25">12</text>
<text x="57.4" y="324.2" font-size="7.7" text-anchor="end" font-weight="normal" fill="#141414" stroke="#141414" stroke-width="0.25">18</text>
<text x="28.1" y="349.8" font-size="8.8" text-anchor="middle" font-weight="normal" fill="#141414" stroke="#141414" stroke-width="0.25" transform="rotate(-90 28.1 349.8)">Viability</text>
<text x="40.0" y="349.6" font-size="8.8" text-anchor="middle" font-weight="normal" fill="#141414" stroke="#141414" stroke-width="0.25" transform="rotate(-90 40.0 349.6)">(RLU, 10<tspan font-size="6.3" dy="-3">2</tspan><tspan dy="3">)</tspan></text>
<line x1="63.4" y1="393.0" x2="140.4" y2="393.0" stroke="#111" stroke-width="1.5"/>
<line x1="64.4" y1="392.6" x2="64.4" y2="396.40000000000003" stroke="#333" stroke-width="0.9"/>
<line x1="88.60000000000001" y1="392.6" x2="88.60000000000001" y2="396.40000000000003" stroke="#333" stroke-width="0.9"/>
<line x1="112.80000000000001" y1="392.6" x2="112.80000000000001" y2="396.40000000000003" stroke="#333" stroke-width="0.9"/>
<line x1="137.0" y1="392.6" x2="137.0" y2="396.40000000000003" stroke="#333" stroke-width="0.9"/>
<rect x="71.8" y="374.2" width="9.6" height="18.400000000000034" fill="#cbcbcb"/>
<line x1="76.6" y1="374.2" x2="76.6" y2="373.6" stroke="#111" stroke-width="1.1"/>
<line x1="73.1" y1="373.6" x2="80.1" y2="373.6" stroke="#111" stroke-width="1.1"/>
<rect x="95.8" y="328.8" width="9.8" height="63.80000000000001" fill="#999999"/>
<line x1="100.7" y1="328.8" x2="100.7" y2="324.5" stroke="#111" stroke-width="1.1"/>
<line x1="98.7" y1="324.5" x2="102.7" y2="324.5" stroke="#111" stroke-width="1.1"/>
<rect x="120.8" y="385.6" width="10.0" height="7.0" fill="#000000"/>
<line x1="125.8" y1="385.6" x2="125.8" y2="382.4" stroke="#111" stroke-width="1.1"/>
<line x1="124.0" y1="382.4" x2="127.6" y2="382.4" stroke="#111" stroke-width="1.1"/>
<text x="28" y="404.5" font-size="8.2" text-anchor="start" font-weight="normal" fill="#141414" stroke="#141414" stroke-width="0.25">pDC</text>
<line x1="75.4" y1="403.5" x2="79.2" y2="399.9" stroke="#111" stroke-width="1.0"/>
<text x="105.7" y="404.5" font-size="8.2" text-anchor="end" font-weight="normal" fill="#141414" stroke="#141414" stroke-width="0.25" transform="rotate(-45 105.7 404.5)">APRIL</text>
<text x="129" y="404.5" font-size="8.2" text-anchor="end" font-weight="normal" fill="#141414" stroke="#141414" stroke-width="0.25" transform="rotate(-45 129 404.5)">APRIL+</text>
<text x="125.9" y="421.6" font-size="8.2" text-anchor="end" font-weight="normal" fill="#141414" stroke="#141414" stroke-width="0.25" transform="rotate(-45 125.9 421.6)">01A</text>
<path d="M77.5 310.0 V307.0 H125 V310.0" fill="none" stroke="#111" stroke-width="1.4"/>
<path d="M101.25 300.42L101.25 301.98M100.57 300.81L101.93 301.59M101.93 300.81L100.57 301.59" stroke="#111" stroke-width="0.95" stroke-linecap="round" fill="none"/>
<path d="M77.5 321.8 V318.8 H99.5 V321.8" fill="none" stroke="#111" stroke-width="1.4"/>
<path d="M86.58 313.02L86.58 314.58M85.90 313.41L87.25 314.19M87.25 313.41L85.90 314.19" stroke="#111" stroke-width="0.95" stroke-linecap="round" fill="none"/>
<path d="M90.42 313.02L90.42 314.58M89.75 313.41L91.10 314.19M91.10 313.41L89.75 314.19" stroke="#111" stroke-width="0.95" stroke-linecap="round" fill="none"/>
<path d="M102.5 321.8 V318.8 H125 V321.8" fill="none" stroke="#111" stroke-width="1.4"/>
<path d="M111.83 313.02L111.83 314.58M111.15 313.41L112.50 314.19M112.50 313.41L111.15 314.19" stroke="#111" stroke-width="0.95" stroke-linecap="round" fill="none"/>
<path d="M115.67 313.02L115.67 314.58M115.00 313.41L116.35 314.19M116.35 313.41L115.00 314.19" stroke="#111" stroke-width="0.95" stroke-linecap="round" fill="none"/>
<text x="148.8" y="305.5" font-size="11.5" text-anchor="start" font-weight="bold" fill="#000" stroke="#000" stroke-width="0.25">F</text>
<line x1="199.6" y1="299.8" x2="199.6" y2="423.1" stroke="#111" stroke-width="1.8"/>
<line x1="196.7" y1="422.5" x2="199.6" y2="422.5" stroke="#111" stroke-width="1.1"/>
<line x1="196.7" y1="402.575" x2="199.6" y2="402.575" stroke="#111" stroke-width="1.1"/>
<line x1="196.7" y1="382.65" x2="199.6" y2="382.65" stroke="#111" stroke-width="1.1"/>
<line x1="196.7" y1="362.725" x2="199.6" y2="362.725" stroke="#111" stroke-width="1.1"/>
<line x1="196.7" y1="342.8" x2="199.6" y2="342.8" stroke="#111" stroke-width="1.1"/>
<line x1="196.7" y1="322.875" x2="199.6" y2="322.875" stroke="#111" stroke-width="1.1"/>
<line x1="196.7" y1="302.95" x2="199.6" y2="302.95" stroke="#111" stroke-width="1.1"/>
<text x="192.4" y="425.4" font-size="8.4" text-anchor="end" font-weight="normal" fill="#141414" stroke="#141414" stroke-width="0.25">0</text>
<text x="192.4" y="385.54999999999995" font-size="8.4" text-anchor="end" font-weight="normal" fill="#141414" stroke="#141414" stroke-width="0.25">1</text>
<text x="192.4" y="345.7" font-size="8.4" text-anchor="end" font-weight="normal" fill="#141414" stroke="#141414" stroke-width="0.25">2</text>
<text x="192.4" y="305.84999999999997" font-size="8.4" text-anchor="end" font-weight="normal" fill="#141414" stroke="#141414" stroke-width="0.25">3</text>
<text x="167.9" y="363.1" font-size="8.8" text-anchor="middle" font-weight="normal" fill="#141414" stroke="#141414" stroke-width="0.25" transform="rotate(-90 167.9 363.1)">Viability</text>
<text x="179.7" y="362.8" font-size="8.8" text-anchor="middle" font-weight="normal" fill="#141414" stroke="#141414" stroke-width="0.25" transform="rotate(-90 179.7 362.8)">(RLU, 10<tspan font-size="6.3" dy="-3">4</tspan><tspan dy="3">)</tspan></text>
<line x1="199.0" y1="422.5" x2="392.2" y2="422.5" stroke="#111" stroke-width="1.2"/>
<line x1="200.0" y1="422.5" x2="200.0" y2="425.5" stroke="#111" stroke-width="1.1"/>
<line x1="263.1" y1="422.5" x2="263.1" y2="425.5" stroke="#111" stroke-width="1.1"/>
<line x1="326.2" y1="422.5" x2="326.2" y2="425.5" stroke="#111" stroke-width="1.1"/>
<line x1="389.3" y1="422.5" x2="389.3" y2="425.5" stroke="#111" stroke-width="1.1"/>
<rect x="211.0" y="341.7" width="8.0" height="80.80000000000001" fill="#cbcbcb"/>
<line x1="215.0" y1="341.7" x2="215.0" y2="339.8" stroke="#111" stroke-width="1.1"/>
<line x1="212.25" y1="339.8" x2="217.75" y2="339.8" stroke="#111" stroke-width="1.1"/>
<rect x="226.6" y="316.0" width="8.25" height="106.5" fill="#6c6c6c"/>
<line x1="230.725" y1="316.0" x2="230.725" y2="314.0" stroke="#111" stroke-width="1.1"/>
<line x1="228.225" y1="314.0" x2="233.225" y2="314.0" stroke="#111" stroke-width="1.1"/>
<rect x="234.85" y="314.3" width="8.25" height="108.19999999999999" fill="#333333"/>
<line x1="238.975" y1="314.3" x2="238.975" y2="312.6" stroke="#111" stroke-width="1.1"/>
<line x1="236.475" y1="312.6" x2="241.475" y2="312.6" stroke="#111" stroke-width="1.1"/>
<rect x="243.1" y="337.5" width="8.25" height="85.0" fill="#000000"/>
<line x1="247.225" y1="337.5" x2="247.225" y2="335.4" stroke="#111" stroke-width="1.1"/>
<line x1="244.725" y1="335.4" x2="249.725" y2="335.4" stroke="#111" stroke-width="1.1"/>
<rect x="274.5" y="388" width="8.0" height="34.5" fill="#cbcbcb"/>
<line x1="278.5" y1="388" x2="278.5" y2="387.4" stroke="#111" stroke-width="1.1"/>
<line x1="275.75" y1="387.4" x2="281.25" y2="387.4" stroke="#111" stroke-width="1.1"/>
<rect x="290.4" y="369.2" width="7.9" height="53.30000000000001" fill="#6c6c6c"/>
<line x1="294.34999999999997" y1="369.2" x2="294.34999999999997" y2="368.6" stroke="#111" stroke-width="1.1"/>
<line x1="291.84999999999997" y1="368.6" x2="296.84999999999997" y2="368.6" stroke="#111" stroke-width="1.1"/>
<rect x="298.29999999999995" y="369.8" width="7.9" height="52.69999999999999" fill="#333333"/>
<line x1="302.24999999999994" y1="369.8" x2="302.24999999999994" y2="365.5" stroke="#111" stroke-width="1.1"/>
<line x1="299.74999999999994" y1="365.5" x2="304.74999999999994" y2="365.5" stroke="#111" stroke-width="1.1"/>
<rect x="306.2" y="387.5" width="7.9" height="35.0" fill="#000000"/>
<line x1="310.15" y1="387.5" x2="310.15" y2="387" stroke="#111" stroke-width="1.1"/>
<line x1="307.65" y1="387" x2="312.65" y2="387" stroke="#111" stroke-width="1.1"/>
<rect x="338" y="397" width="8.0" height="25.5" fill="#cbcbcb"/>
<line x1="342.0" y1="397" x2="342.0" y2="396.4" stroke="#111" stroke-width="1.1"/>
<line x1="339.25" y1="396.4" x2="344.75" y2="396.4" stroke="#111" stroke-width="1.1"/>
<rect x="353.7" y="391.2" width="8.15" height="31.30000000000001" fill="#6c6c6c"/>
<line x1="357.775" y1="391.2" x2="357.775" y2="390.4" stroke="#111" stroke-width="1.1"/>
<line x1="355.275" y1="390.4" x2="360.275" y2="390.4" stroke="#111" stroke-width="1.1"/>
<rect x="361.84999999999997" y="391.8" width="8.15" height="30.69999999999999" fill="#333333"/>
<line x1="365.92499999999995" y1="391.8" x2="365.92499999999995" y2="389.8" stroke="#111" stroke-width="1.1"/>
<line x1="363.42499999999995" y1="389.8" x2="368.42499999999995" y2="389.8" stroke="#111" stroke-width="1.1"/>
<rect x="370.0" y="399.2" width="8.15" height="23.30000000000001" fill="#000000"/>
<line x1="374.075" y1="399.2" x2="374.075" y2="398.8" stroke="#111" stroke-width="1.1"/>
<line x1="371.575" y1="398.8" x2="376.575" y2="398.8" stroke="#111" stroke-width="1.1"/>
<path d="M215 309.9 V306.7 H231.2 V309.9" fill="none" stroke="#111" stroke-width="1.4"/>
<path d="M221.17 300.42L221.17 301.98M220.50 300.81L221.85 301.59M221.85 300.81L220.50 301.59" stroke="#111" stroke-width="0.95" stroke-linecap="round" fill="none"/>
<path d="M225.03 300.42L225.03 301.98M224.35 300.81L225.70 301.59M225.70 300.81L224.35 301.59" stroke="#111" stroke-width="0.95" stroke-linecap="round" fill="none"/>
<path d="M239.5 309.9 V306.7 H248.2 V309.9" fill="none" stroke="#111" stroke-width="1.4"/>
<path d="M241.92 300.42L241.92 301.98M241.25 300.81L242.60 301.59M242.60 300.81L241.25 301.59" stroke="#111" stroke-width="0.95" stroke-linecap="round" fill="none"/>
<path d="M245.78 300.42L245.78 301.98M245.10 300.81L246.45 301.59M246.45 300.81L245.10 301.59" stroke="#111" stroke-width="0.95" stroke-linecap="round" fill="none"/>
<path d="M278.8 364.0 V361 H294.2 V364.0" fill="none" stroke="#111" stroke-width="1.4"/>
<path d="M284.57 354.72L284.57 356.28M283.90 355.11L285.25 355.89M285.25 355.11L283.90 355.89" stroke="#111" stroke-width="0.95" stroke-linecap="round" fill="none"/>
<path d="M288.43 354.72L288.43 356.28M287.75 355.11L289.10 355.89M289.10 355.11L287.75 355.89" stroke="#111" stroke-width="0.95" stroke-linecap="round" fill="none"/>
<path d="M303.0 364.0 V361 H311.2 V364.0" fill="none" stroke="#111" stroke-width="1.4"/>
<path d="M305.18 354.72L305.18 356.28M304.50 355.11L305.85 355.89M305.85 355.11L304.50 355.89" stroke="#111" stroke-width="0.95" stroke-linecap="round" fill="none"/>
<path d="M309.03 354.72L309.03 356.28M308.35 355.11L309.70 355.89M309.70 355.11L308.35 355.89" stroke="#111" stroke-width="0.95" stroke-linecap="round" fill="none"/>
<path d="M343.0 387.2 V384.2 H358.2 V387.2" fill="none" stroke="#111" stroke-width="1.4"/>
<path d="M348.68 378.02L348.68 379.58M348.00 378.41L349.35 379.19M349.35 378.41L348.00 379.19" stroke="#111" stroke-width="0.95" stroke-linecap="round" fill="none"/>
<path d="M352.53 378.02L352.53 379.58M351.85 378.41L353.20 379.19M353.20 378.41L351.85 379.19" stroke="#111" stroke-width="0.95" stroke-linecap="round" fill="none"/>
<path d="M365.8 387.2 V384.2 H374.5 V387.2" fill="none" stroke="#111" stroke-width="1.4"/>
<path d="M368.22 378.02L368.22 379.58M367.55 378.41L368.90 379.19M368.90 378.41L367.55 379.19" stroke="#111" stroke-width="0.95" stroke-linecap="round" fill="none"/>
<path d="M372.07 378.02L372.07 379.58M371.40 378.41L372.75 379.19M372.75 378.41L371.40 379.19" stroke="#111" stroke-width="0.95" stroke-linecap="round" fill="none"/>
<text x="231.2" y="437.0" font-size="8.2" text-anchor="middle" font-weight="normal" fill="#141414" stroke="#141414" stroke-width="0.25">KMS26</text>
<text x="295" y="437.0" font-size="8.2" text-anchor="middle" font-weight="normal" fill="#141414" stroke="#141414" stroke-width="0.25">H929</text>
<text x="357.5" y="437.0" font-size="8.2" text-anchor="middle" font-weight="normal" fill="#141414" stroke="#141414" stroke-width="0.25">MM1S</text>
<rect x="393" y="326.25" width="5.1" height="5.1" fill="#cbcbcb"/>
<text x="401.3" y="331.172" font-size="7.7" text-anchor="start" font-weight="normal" fill="#141414" stroke="#141414" stroke-width="0.25">MM</text>
<rect x="393" y="338.95" width="5.1" height="5.1" fill="#999999"/>
<text x="401.3" y="343.872" font-size="7.7" text-anchor="start" font-weight="normal" fill="#141414" stroke="#141414" stroke-width="0.25">pDC</text>
<rect x="393" y="351.65" width="5.1" height="5.1" fill="#6c6c6c"/>
<text x="401.3" y="356.572" font-size="7.7" text-anchor="start" font-weight="normal" fill="#141414" stroke="#141414" stroke-width="0.25">MM+pDC</text>
<rect x="393" y="363.84999999999997" width="5.1" height="5.1" fill="#333333"/>
<text x="401.3" y="368.772" font-size="7.7" text-anchor="start" font-weight="normal" fill="#141414" stroke="#141414" stroke-width="0.25">MM+pDC+APRIL</text>
<rect x="393" y="376.65" width="5.1" height="5.1" fill="#000000"/>
<text x="401.3" y="381.572" font-size="7.7" text-anchor="start" font-weight="normal" fill="#141414" stroke="#141414" stroke-width="0.25">MM+pDC+APRIL+01A</text>
</g>
<path d="M0 0 H520 V444 H0 Z M1.4 0.8 V442.6 H518.9 V0.8 Z" fill="#000" fill-rule="evenodd"/>
</svg>
</body></html>
